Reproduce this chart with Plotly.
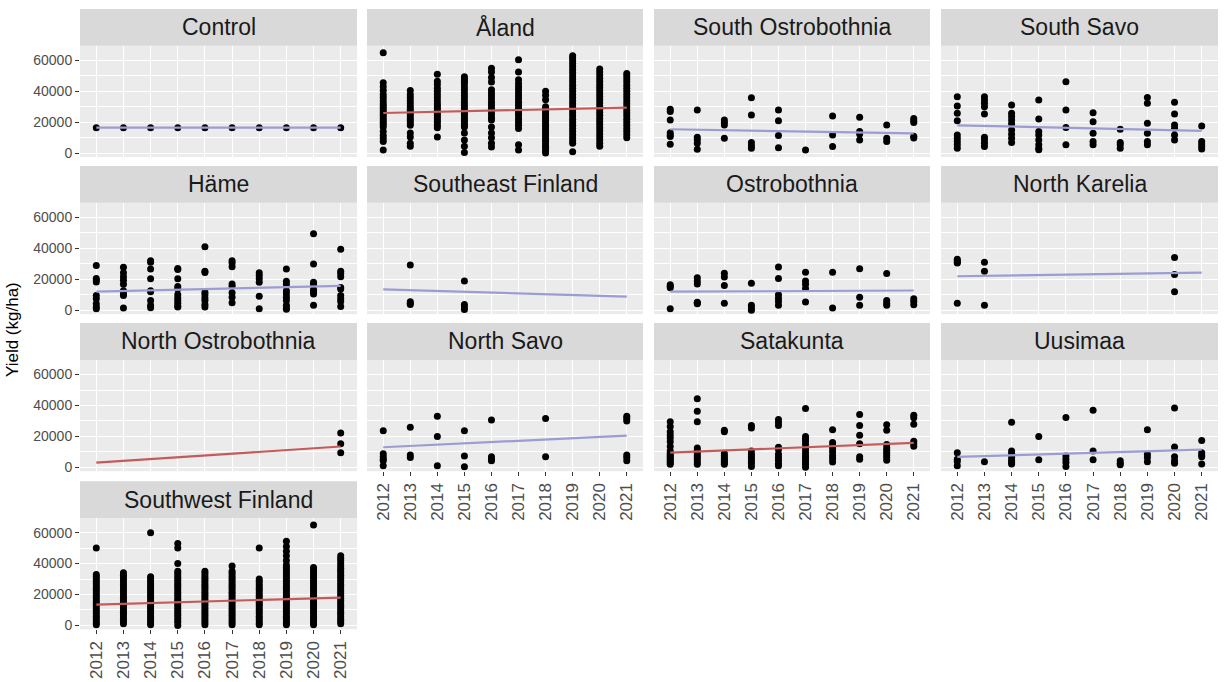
import plotly.graph_objects as go

# ---------------- data ----------------
years = [2012, 2013, 2014, 2015, 2016, 2017, 2018, 2019, 2020, 2021]
year_labels = ["2012", "2013", "2014", "2015", "2016", "2017", "2018", "2019", "2020", "2021"]
y_tick_vals = [0, 20000, 40000, 60000]
y_tick_text = ["0", "20000", "40000", "60000"]

regions = ["Control", "Åland", "South Ostrobothnia", "South Savo",
           "Häme", "Southeast Finland", "Ostrobothnia", "North Karelia",
           "North Ostrobothnia", "North Savo", "Satakunta", "Uusimaa",
           "Southwest Finland"]

# fitted trend (value at 2012 and at 2021) per region
trend_start = [16500, 26000, 15500, 18000, 12000, 13500, 12000, 22000, 3000, 13000, 9500, 6800, 13500]
trend_end = [16500, 29500, 12800, 14500, 15800, 8800, 12800, 24300, 13500, 20500, 15800, 11500, 18000]
trend_group = ["ns", "sig", "ns", "ns", "ns", "ns", "ns", "ns", "sig", "ns", "sig", "ns", "sig"]

control_yield = [[16500], [16500], [16500], [16500], [16500], [16500], [16500], [16500], [16500], [16500]]

aland_yield = [
    [65000, 45500, 43000, 40500, 38000, 36000, 34000, 32000, 30500, 29000, 27500, 26000, 24500, 23000, 21500, 20000, 18500, 17000, 14000, 11500, 9500, 7500, 2000],
    [40500, 38000, 36000, 34000, 32000, 30000, 28500, 27000, 25500, 24000, 22500, 21000, 19500, 18000, 13000, 10500, 6500, 4500],
    [51000, 46500, 44500, 42000, 40000, 38000, 36000, 34000, 32000, 30500, 29000, 27500, 26000, 24500, 23000, 21500, 20000, 18000, 16500, 10500],
    [49500, 48000, 46500, 45000, 43000, 41000, 39000, 37000, 35000, 33000, 31000, 29000, 27000, 25500, 24000, 22500, 21000, 19500, 18000, 17000, 13000, 8500, 4500, 500],
    [55000, 52500, 49000, 46000, 41000, 39000, 37000, 35000, 33000, 31000, 29000, 27000, 25000, 23000, 21500, 17000, 13000, 10000, 6500, 4000],
    [60500, 52500, 47500, 45000, 43000, 41000, 39000, 37000, 35000, 33000, 31000, 29000, 27000, 25500, 24000, 22000, 20000, 18000, 16000, 5500, 2000],
    [40000, 37500, 34500, 30000, 28500, 27000, 25500, 24000, 22500, 21000, 19500, 18000, 16500, 15000, 13500, 12000, 10500, 9000, 7500, 6000, 4500, 3000, 1500, 200],
    [63000, 61500, 60000, 58000, 56000, 54000, 52000, 50000, 48000, 46000, 44000, 42000, 40000, 38000, 36000, 34000, 32000, 30000, 28000, 26000, 24000, 22000, 20000, 18000, 16000, 14000, 12000, 10000, 8000, 6500, 1000],
    [54500, 52500, 50500, 48500, 46500, 44500, 42500, 40500, 38500, 36500, 34500, 32500, 30500, 28500, 26500, 24500, 22500, 20500, 18500, 16500, 14500, 12500, 10500, 8500, 6500, 4500],
    [51500, 50000, 48000, 46000, 44000, 42000, 40000, 38000, 36000, 34000, 32000, 30000, 28000, 26000, 24000, 22000, 20000, 18000, 16000, 14000, 12000, 10000],
]

south_ostrobothnia_yield = [
    [28400, 26900, 21500, 13300, 11800, 10800, 5800],
    [27900, 10300, 8600, 6500, 2600],
    [21500, 19800, 18300, 9700],
    [35900, 24700, 6900, 4800, 3200],
    [27900, 21000, 11400, 3600],
    [2100],
    [24000, 11800, 4300],
    [23200, 14000, 12500, 8600],
    [18300, 9700, 7500],
    [22500, 21000, 19800, 11000, 9800],
]

south_savo_yield = [
    [36500, 30500, 25800, 21000, 11800, 9700, 7500, 5400, 3200],
    [36500, 34400, 32300, 30100, 25400, 10300, 8600, 6500, 4300],
    [31200, 25800, 23700, 21500, 19000, 15000, 12200, 9700, 6900],
    [34400, 22100, 14000, 11800, 8600, 5400, 3200, 2200],
    [46200, 27900, 16600, 5400],
    [26200, 20400, 12900, 7500, 5400],
    [15500, 6900, 5400, 3200],
    [36100, 32300, 19400, 12900, 7500, 5400],
    [32900, 25400, 18300, 16100, 11800, 8600],
    [17600, 7500, 6000, 4300, 2800],
]

hame_yield = [
    [29000, 20600, 19600, 18300, 9500, 7400, 4200, 2100, 1000],
    [27800, 24200, 21700, 19400, 16800, 12600, 10500, 9500, 1500],
    [32000, 31000, 26700, 20400, 12600, 12000, 6300, 3200, 1700],
    [27000, 26300, 20400, 15400, 13700, 10100, 8000, 6300, 4600, 2700, 2100],
    [41000, 25300, 24500, 11600, 10100, 8000, 6300, 3800, 2100],
    [32000, 30500, 28200, 17000, 15600, 11400, 8400, 4800],
    [24200, 22500, 20400, 18100, 9000, 1000],
    [26700, 18700, 16800, 12600, 10700, 8400, 6300, 3200, 1500, 600],
    [49500, 29900, 18100, 16800, 13500, 12000, 10500, 3200],
    [39400, 25300, 23800, 21700, 14700, 13700, 9500, 7400, 5700, 2500],
]

southeast_finland_yield = [
    [],
    [29200, 5500, 4600, 3800],
    [],
    [19000, 3800, 2100, 500],
    [], [], [], [], [], [],
]

ostrobothnia_yield = [
    [16500, 15500, 14500, 1000],
    [21000, 19000, 17000, 5200, 4700, 4200],
    [24000, 21500, 16000, 4600],
    [17500, 3200, 1500, 0],
    [28000, 20600, 10100, 7800, 5700, 3200],
    [24600, 18900, 16800, 14100, 5300],
    [24600, 1500],
    [26900, 8400, 3200],
    [23800, 6300, 4600, 3200],
    [7400, 5700, 3600],
]

north_karelia_yield = [
    [33000, 32000, 31000, 30500, 4600],
    [31000, 25300, 3200],
    [], [], [], [], [], [],
    [34100, 23200, 12000],
    [],
]

north_ostrobothnia_yield = [
    [], [], [], [], [], [], [], [], [],
    [22200, 15200, 9500],
]

north_savo_yield = [
    [23600, 8800, 6800, 5300, 4200, 1000],
    [26000, 8000, 6300],
    [33100, 20000, 1000],
    [23600, 7400, 400],
    [30600, 6800, 5300, 4200],
    [],
    [31600, 6800],
    [],
    [],
    [33100, 31600, 30000, 8000, 6300, 4200],
]

satakunta_yield = [
    [29500, 26500, 23000, 21000, 19000, 16500, 13500, 10500, 9000, 8000, 7000, 6000, 5000, 4000, 3000, 2000],
    [44300, 36300, 29500, 12500, 11000, 9500, 8000, 6500, 5000, 3500, 2000],
    [24000, 23000, 9000, 7500, 6000, 5000, 4000, 3000, 2000],
    [27000, 25500, 10500, 8500, 7000, 5500, 4000, 2500, 500],
    [31000, 29000, 27000, 13000, 11500, 8500, 6300, 4600, 2500, 1000],
    [38000, 20000, 18500, 17000, 15000, 12000, 10000, 8000, 6500, 5000, 3500, 2000, 0],
    [24300, 16000, 14000, 12000, 10000, 7500, 5500, 3500],
    [34200, 27000, 20700, 15200, 6800, 5300],
    [27500, 24000, 14800, 12700, 11000, 9500, 8000, 6300, 4600],
    [33700, 32000, 27900, 16900, 15200, 13700],
]

uusimaa_yield = [
    [9500, 5300, 3800, 1000],
    [3600],
    [29100, 10500, 9000, 6300, 4600, 3200, 2100],
    [20000, 4900],
    [32300, 7400, 5300, 3200, 600],
    [36900, 10500, 4900],
    [4200, 2700, 1700],
    [24300, 8400, 6300, 3600],
    [38400, 13100, 6800, 4200, 2700],
    [17300, 9500, 8000, 6800, 2100],
]

southwest_finland_yield = [
    [50000, 33000, 31500, 30000, 28500, 27000, 25500, 24000, 22500, 21000, 19500, 18000, 16500, 15000, 13500, 12000, 10500, 9000, 7500, 6000, 4500, 3000, 1500, 500],
    [34000, 32500, 31000, 29500, 28000, 26500, 25000, 23500, 22000, 20500, 19000, 17500, 16000, 14500, 13000, 11500, 10000, 8500, 7000, 5500, 4000, 2500, 1000],
    [60000, 31500, 30000, 28500, 27000, 25500, 24000, 22500, 21000, 19500, 18000, 16500, 15000, 13500, 12000, 10500, 9000, 7500, 6000, 4500, 3000, 1500, 500],
    [53000, 50000, 40000, 35000, 33500, 32000, 30500, 29000, 27500, 26000, 24500, 23000, 21500, 20000, 18500, 17000, 15500, 14000, 12500, 11000, 9500, 8000, 6500, 5000, 3500, 2000, 0],
    [35000, 33500, 32000, 30500, 29000, 27500, 26000, 24500, 23000, 21500, 20000, 18500, 17000, 15500, 14000, 12500, 11000, 9500, 8000, 6500, 5000, 3500, 2000, 500],
    [38500, 35000, 33500, 32000, 30500, 29000, 27500, 26000, 24500, 23000, 21500, 20000, 18500, 17000, 15500, 14000, 12500, 11000, 9500, 8000, 6500, 5000, 3500, 2000, 500],
    [50000, 30000, 28500, 27000, 25500, 24000, 22500, 21000, 19500, 18000, 16500, 15000, 13500, 12000, 10500, 9000, 7500, 6000, 4500, 3000, 1500, 500],
    [54500, 51000, 48000, 45000, 42000, 39000, 37500, 36000, 34500, 33000, 31500, 30000, 28500, 27000, 25500, 24000, 22500, 21000, 19500, 18000, 16500, 15000, 13500, 12000, 10500, 9000, 7500, 6000, 4500, 3000, 1500, 500],
    [65000, 37500, 36000, 34500, 33000, 31500, 30000, 28500, 27000, 25500, 24000, 22500, 21000, 19500, 18000, 16500, 15000, 13500, 12000, 10500, 9000, 7500, 6000, 4500, 3000, 1500, 500],
    [45000, 43500, 42000, 40000, 38500, 37000, 35500, 34000, 32500, 31000, 29500, 28000, 26500, 25000, 23500, 22000, 20500, 19000, 17500, 16000, 14500, 13000, 11500, 10000, 8500, 7000, 5500, 4000, 2500, 1000],
]

region_yields = [control_yield, aland_yield, south_ostrobothnia_yield, south_savo_yield,
                 hame_yield, southeast_finland_yield, ostrobothnia_yield, north_karelia_yield,
                 north_ostrobothnia_yield, north_savo_yield, satakunta_yield, uusimaa_yield,
                 southwest_finland_yield]

# ---------------- styling / layout ----------------
W, H = 1225, 682
col_x = [(80, 357), (367, 643), (654, 930), (941, 1218)]
strip_top = [9, 167, 325, 484]
strip_h = 37
plot_h = 112
line_colours = {"ns": "#9C9CD2", "sig": "#C55A5A"}
bottom_panels = {9, 10, 11, 12}
FONT = "Liberation Sans, Arial"

fig = go.Figure()
layout = {}
shapes = []
annotations = []

for i, region in enumerate(regions):
    r, c = divmod(i, 4)
    n = i + 1
    xa = "x" if n == 1 else f"x{n}"
    ya = "y" if n == 1 else f"y{n}"
    x0, x1 = col_x[c]
    st = strip_top[r]
    y_top = st + strip_h
    y_bot = y_top + plot_h

    xs, ys = [], []
    for yr, vals in zip(years, region_yields[i]):
        for v in vals:
            xs.append(yr)
            ys.append(v)
    fig.add_trace(go.Scatter(x=xs, y=ys, mode="markers", xaxis=xa, yaxis=ya,
                             marker=dict(color="black", size=7), showlegend=False,
                             hoverinfo="skip"))
    fig.add_trace(go.Scatter(x=[years[0], years[-1]], y=[trend_start[i], trend_end[i]],
                             mode="lines", xaxis=xa, yaxis=ya,
                             line=dict(color=line_colours[trend_group[i]], width=2.2),
                             showlegend=False, hoverinfo="skip"))

    show_x = i in bottom_panels
    show_y = c == 0
    layout["xaxis" if n == 1 else f"xaxis{n}"] = dict(
        domain=[x0 / W, x1 / W], anchor=ya, range=[2011.4, 2021.6],
        tickvals=years, ticktext=year_labels, showticklabels=show_x,
        ticks="outside" if show_x else "", ticklen=4, tickwidth=1, tickcolor="#333333",
        tickangle=-90, tickfont=dict(size=17, color="#4D4D4D", family=FONT),
        showgrid=True, gridcolor="white", gridwidth=1.1, zeroline=False, showline=False,
        fixedrange=True)
    layout["yaxis" if n == 1 else f"yaxis{n}"] = dict(
        domain=[1 - y_bot / H, 1 - y_top / H], anchor=xa, range=[-2500, 69500],
        tickvals=y_tick_vals, ticktext=y_tick_text, showticklabels=show_y,
        ticks="outside" if show_y else "", ticklen=4, tickwidth=1, tickcolor="#333333",
        tickfont=dict(size=14, color="#4D4D4D", family=FONT),
        showgrid=True, gridcolor="white", gridwidth=1.1, zeroline=False, showline=False,
        minor=dict(dtick=10000, tick0=0, showgrid=True, gridcolor="white", gridwidth=0.5),
        fixedrange=True)

    shapes.append(dict(type="rect", xref="paper", yref="paper",
                       x0=x0 / W, x1=x1 / W, y0=1 - y_top / H, y1=1 - st / H,
                       fillcolor="#D9D9D9", line=dict(width=0), layer="below"))
    annotations.append(dict(text=region, xref="paper", yref="paper",
                            x=(x0 + x1) / 2 / W, y=1 - (st + strip_h / 2) / H,
                            xanchor="center", yanchor="middle", showarrow=False,
                            font=dict(size=23, color="#1A1A1A", family=FONT)))

annotations.append(dict(text="Yield (kg/ha)", xref="paper", yref="paper",
                        x=12 / W, y=1 - 332 / H, textangle=-90, xanchor="center",
                        yanchor="middle", showarrow=False,
                        font=dict(size=17, color="black", family=FONT)))

fig.update_layout(**layout)
fig.update_layout(width=W, height=H, margin=dict(l=0, r=0, t=0, b=0),
                  paper_bgcolor="white", plot_bgcolor="#EBEBEB",
                  shapes=shapes, annotations=annotations, showlegend=False)

fig.write_html("out.html")
